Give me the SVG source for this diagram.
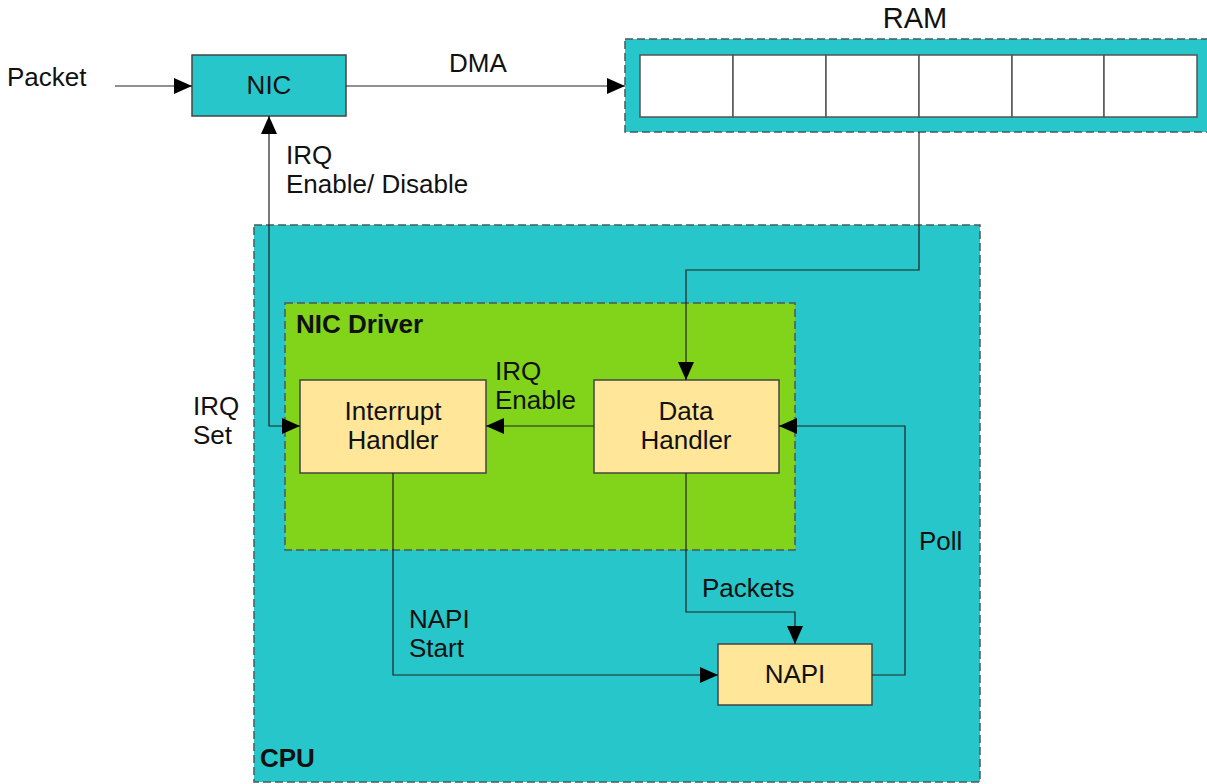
<svg xmlns="http://www.w3.org/2000/svg" width="1207" height="784" viewBox="0 0 1207 784">
  <style>
    .t { font-family: "Liberation Sans", Arial, sans-serif; font-size: 26px; fill: #111; }
    .b { font-family: "Liberation Sans", Arial, sans-serif; font-size: 26px; font-weight: bold; fill: #111; }
    .c { text-anchor: middle; }
    .box { fill: #FFE699; stroke: #444; stroke-width: 1.5; }
    .nic { fill: #26C6CA; stroke: #444; stroke-width: 1.5; }
    .cell { fill: #fff; stroke: #555; stroke-width: 1.5; }
    .grp { stroke: #4a5a5a; stroke-width: 1.5; stroke-dasharray: 8 4; }
    .conn { fill: none; stroke: #222; stroke-width: 1.2; }
  </style>
  <defs>
    <marker id="arr" markerUnits="userSpaceOnUse" markerWidth="18" markerHeight="16" refX="18" refY="8" orient="auto-start-reverse">
      <path d="M0,0 L18,8 L0,16 z" fill="#000"/>
    </marker>
  </defs>
  <rect width="1207" height="784" fill="#fff"/>

  <g id="cpu">
    <rect x="254" y="225" width="726" height="557" fill="#26C6CA" class="grp"/>
    <text class="b" x="260" y="767">CPU</text>
  </g>
  <g id="nic-driver">
    <rect x="285" y="303" width="510" height="247" fill="#81D41A" class="grp"/>
    <text class="b" x="296" y="333">NIC Driver</text>
  </g>
  <g id="ram">
    <rect x="625" y="39" width="590" height="93" fill="#26C6CA" class="grp"/>
    <rect x="640" y="55" width="93" height="62" class="cell"/>
    <rect x="733" y="55" width="93" height="62" class="cell"/>
    <rect x="826" y="55" width="93" height="62" class="cell"/>
    <rect x="919" y="55" width="93" height="62" class="cell"/>
    <rect x="1012" y="55" width="92" height="62" class="cell"/>
    <rect x="1104" y="55" width="93" height="62" class="cell"/>
    <text class="t c" x="915" y="28" style="font-size:29px">RAM</text>
  </g>
  <g id="nic">
    <rect x="192" y="55" width="154" height="61" class="nic"/>
    <text class="t c" x="269" y="94">NIC</text>
  </g>
  <g id="interrupt-handler">
    <rect x="300" y="380" width="186" height="93" class="box"/>
    <text class="t c" x="393" y="420">Interrupt</text>
    <text class="t c" x="393" y="449.3">Handler</text>
  </g>
  <g id="data-handler">
    <rect x="594" y="380" width="185" height="93" class="box"/>
    <text class="t c" x="686" y="420">Data</text>
    <text class="t c" x="686" y="449.3">Handler</text>
  </g>
  <g id="napi">
    <rect x="718" y="644" width="154" height="61" class="box"/>
    <text class="t c" x="795" y="683">NAPI</text>
  </g>

  <g id="connectors">
    <path class="conn" d="M115,86 H192" marker-end="url(#arr)"/>
    <path class="conn" d="M346,86 H625" marker-end="url(#arr)"/>
    <path class="conn" d="M300,426 H269 V116" marker-start="url(#arr)" marker-end="url(#arr)"/>
    <path class="conn" d="M919,132 V270 H686 V380" marker-end="url(#arr)"/>
    <path class="conn" d="M594,426 H486" marker-end="url(#arr)"/>
    <path class="conn" d="M393,473 V675 H718" marker-end="url(#arr)"/>
    <path class="conn" d="M686,473 V612 H795 V644" marker-end="url(#arr)"/>
    <path class="conn" d="M872,675 H905 V426 H779" marker-end="url(#arr)"/>
  </g>

  <g id="labels">
    <text class="t" x="7" y="86">Packet</text>
    <text class="t" x="449" y="72">DMA</text>
    <text class="t" x="286" y="163.5">IRQ</text>
    <text class="t" x="286" y="192.8">Enable/ Disable</text>
    <text class="t" x="193" y="415">IRQ</text>
    <text class="t" x="193" y="444.3">Set</text>
    <text class="t" x="495" y="380">IRQ</text>
    <text class="t" x="495" y="409.3">Enable</text>
    <text class="t" x="409" y="627.5">NAPI</text>
    <text class="t" x="409" y="656.8">Start</text>
    <text class="t" x="702" y="597">Packets</text>
    <text class="t" x="919" y="550">Poll</text>
  </g>
</svg>
